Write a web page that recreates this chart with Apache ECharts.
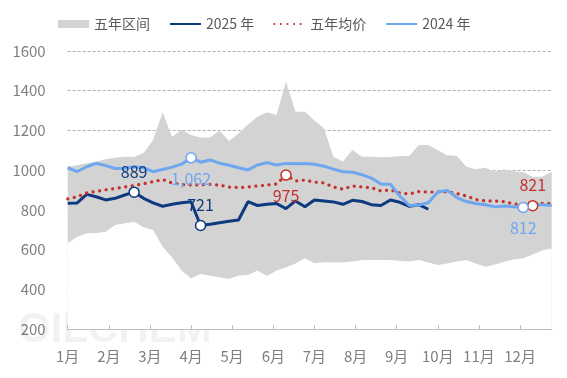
<!DOCTYPE html>
<html>
<head>
<meta charset="utf-8">
<script src="https://cdn.jsdelivr.net/npm/echarts@6/dist/echarts.min.js"></script>
<style>
html,body{margin:0;padding:0;background:#fff;}
#c{width:567px;height:378px;}
</style>
</head>
<body>
<div id="c"></div>
<script>
// Weekly data, week index 0..51
const monthLabels = ['1月','2月','3月','4月','5月','6月','7月','8月','9月','10月','11月','12月'];
const range5Max = [1017,1025,1035,1043,1055,1062,1068,1066,1086,1152,1290,1168,1202,1177,1165,1165,1199,1147,1185,1230,1269,1292,1278,1445,1294,1294,1250,1211,1068,1043,1101,1068,1068,1065,1066,1071,1071,1127,1127,1100,1075,1071,1017,1004,1012,992,1004,995,990,967,967,992];
const range5Min = [632,665,682,684,690,724,732,740,712,699,615,560,495,456,477,468,460,452,470,472,494,467,495,510,530,556,531,536,536,536,540,548,547,547,547,542,540,547,535,522,530,540,547,530,514,525,539,550,556,575,595,606];
const avg5 = [855,866,885,893,901,907,915,923,932,942,953,935,928,925,926,928,925,915,912,915,920,925,930,975,945,950,940,935,915,904,920,915,912,895,900,885,880,892,890,890,891,882,870,852,845,845,841,830,826,821,833,833];
const y2025 = [833,835,878,866,850,858,875,889,858,835,818,828,836,841,721,727,735,743,749,841,822,828,832,806,845,816,850,845,840,828,848,842,826,822,850,838,818,826,803];
const y2024 = [1012,993,1017,1034,1023,1008,1010,1017,1012,992,1003,1015,1030,1062,1040,1051,1035,1025,1012,1001,1026,1038,1026,1034,1032,1034,1030,1020,1005,992,990,977,960,930,929,870,822,825,836,890,898,862,842,832,826,815,820,816,812,826,826,822];

const WEEKS_PER_MONTH = 52 / 12;
const monthTicks = monthLabels.map((m, i) => i * WEEKS_PER_MONTH);
const pairs = arr => arr.map((v, i) => [i, v]);

const C2025 = '#0d3a7e', C2024 = '#6ea6f0', CAVG = '#c4302b', CBAND = '#d3d3d3';
const FONT = '"Noto Sans CJK SC","Noto Sans",sans-serif';

function mp(color, posMax, posMin) {
  const lab = (pos) => ({
    show: true, position: pos, distance: 7, color: color, fontSize: 16, fontFamily: FONT,
    formatter: p => Number(p.value).toLocaleString('en-US')
  });
  return {
    symbol: 'circle', symbolSize: 10,
    itemStyle: {color: '#ffffff', borderColor: color, borderWidth: 1.5},
    data: [
      {type: 'max', valueDim: 'y', label: lab(posMax)},
      {type: 'min', valueDim: 'y', label: lab(posMin)}
    ],
    z: 5
  };
}

const lineIcon = 'path://M0,0 L1,0 L1,1 L0,1 Z';

const chart = echarts.init(document.getElementById('c'), null, {renderer: 'canvas'});
chart.setOption({
  animation: false,
  backgroundColor: '#fff',
  textStyle: {fontFamily: FONT},
  grid: {left: 67.7, right: 15.3, top: 51, bottom: 49, containLabel: false},
  legend: {
    left: 53, top: 12, itemWidth: 31, itemHeight: 8, itemGap: 19,
    textStyle: {color: '#595959', fontSize: 14, fontFamily: FONT},
    data: [
      {name: '五年区间', icon: 'rect', itemStyle: {color: CBAND}},
      {name: '2025 年', itemStyle: {opacity: 0}},
      {name: '五年均价', itemStyle: {opacity: 0}},
      {name: '2024 年', itemStyle: {opacity: 0}}
    ]
  },
  graphic: [{
    type: 'text', x: 18, y: 330, z: 3, silent: true,
    style: {text: 'OILCHEM', fontSize: 42, fontWeight: 'bold', fontFamily: 'Liberation Sans', fill: 'rgba(0,0,0,0.05)', verticalAlign: 'middle'}
  }],
  xAxis: {
    type: 'value', min: 0, max: 51, z: 10,
    axisLine: {lineStyle: {color: '#bfbfbf', width: 1}},
    axisTick: {inside: true, length: 4, customValues: monthTicks, lineStyle: {color: '#bfbfbf'}},
    axisLabel: {customValues: monthTicks, color: '#7f7f7f', fontSize: 15, margin: 20, fontFamily: FONT,
      formatter: v => monthLabels[Math.round(v / WEEKS_PER_MONTH)]},
    splitLine: {show: false}
  },
  yAxis: {
    type: 'value', min: 200, max: 1600, interval: 200,
    axisLine: {show: false}, axisTick: {show: false},
    axisLabel: {color: '#7f7f7f', fontSize: 15, margin: 22, fontFamily: FONT, formatter: v => String(v)},
    splitLine: {lineStyle: {color: '#b0b0b0', type: [3, 2], width: 1}}
  },
  series: [
    {name: '五年区间', type: 'line', data: pairs(range5Max), symbol: 'none', silent: true,
      itemStyle: {color: CBAND}, lineStyle: {width: 0}, areaStyle: {color: CBAND, opacity: 1, origin: 'start'}},
    {name: '_low', type: 'line', data: pairs(range5Min), symbol: 'none', silent: true,
      itemStyle: {color: '#ffffff'}, lineStyle: {width: 0}, areaStyle: {color: '#ffffff', opacity: 1, origin: 'start'}},
    {name: '2025 年', type: 'line', data: pairs(y2025), symbol: 'none',
      itemStyle: {color: C2025}, lineStyle: {color: C2025, width: 3}, markPoint: mp(C2025, 'top', 'top')},
    {name: '五年均价', type: 'line', data: pairs(avg5), symbol: 'none',
      itemStyle: {color: CAVG}, lineStyle: {color: CAVG, width: 3.2, type: [0.1, 6.5], cap: 'round'},
      markPoint: mp(CAVG, 'bottom', 'top')},
    {name: '2024 年', type: 'line', data: pairs(y2024), symbol: 'none',
      itemStyle: {color: C2024}, lineStyle: {color: C2024, width: 3}, markPoint: mp(C2024, 'bottom', 'bottom')}
  ]
});
</script>
</body>
</html>
